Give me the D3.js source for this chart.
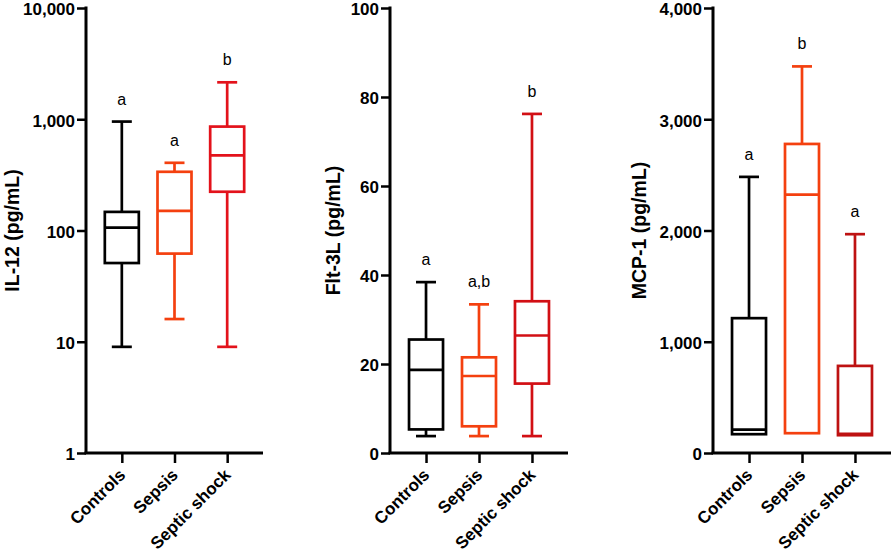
<!DOCTYPE html>
<html><head><meta charset="utf-8">
<script src="https://cdn.jsdelivr.net/npm/d3@7"></script>
<style>body{margin:0;background:#fff}svg{display:block}text{font-family:"Liberation Sans",Arial,sans-serif}</style>
</head><body>
<svg id="c" width="894" height="554"></svg>
<script>
const categories = ["Controls","Sepsis","Septic shock"];

const il12Min    = [9, 16, 9];
const il12Q1     = [51, 62, 223];
const il12Median = [106, 150, 474];
const il12Q3     = [147, 337, 859];
const il12Max    = [953, 406, 2148];
const il12Letters = ["a","a","b"];
const il12Ticks  = [1, 10, 100, 1000, 10000];

const fltMin    = [3.8, 3.8, 3.8];
const fltQ1     = [5.3, 6.0, 15.6];
const fltMedian = [18.7, 17.3, 26.4];
const fltQ3     = [25.5, 21.5, 34.1];
const fltMax    = [38.4, 33.4, 76.2];
const fltLetters = ["a","a,b","b"];
const fltTicks  = [0, 20, 40, 60, 80, 100];

const mcpMin    = [169, 178, 160];
const mcpQ1     = [169, 178, 160];
const mcpMedian = [210, 2323, 172];
const mcpQ3     = [1212, 2778, 783];
const mcpMax    = [2482, 3475, 1967];
const mcpLetters = ["a","b","a"];
const mcpTicks  = [0, 1000, 2000, 3000, 4000];

const panels = [
  {title:"IL-12 (pg/mL)", log:true, domain:[1,10000], ticks:il12Ticks, min:il12Min, q1:il12Q1, med:il12Median, q3:il12Q3, max:il12Max, letters:il12Letters,
   x0:86, x1:263, titleX:12, colors:["#000000","#F4400F","#E3121B"]},
  {title:"Flt-3L (pg/mL)", log:false, domain:[0,100], ticks:fltTicks, min:fltMin, q1:fltQ1, med:fltMedian, q3:fltQ3, max:fltMax, letters:fltLetters,
   x0:390, x1:568, titleX:333, colors:["#000000","#F4400F","#D20F14"]},
  {title:"MCP-1 (pg/mL)", log:false, domain:[0,4000], ticks:mcpTicks, min:mcpMin, q1:mcpQ1, med:mcpMedian, q3:mcpQ3, max:mcpMax, letters:mcpLetters,
   x0:713, x1:891, titleX:639, colors:["#000000","#F4400F","#BE1212"]}
];

const svg = d3.select("#c");
const yTop = 8, yBot = 453;
const boxW = 34, capW = 20;

panels.forEach(p => {
  const y = (p.log ? d3.scaleLog() : d3.scaleLinear()).domain(p.domain).range([yBot, yTop]);
  const x = d3.scalePoint().domain(categories).range([p.x0, p.x1]).padding(0.68);
  const g = svg.append("g");

  // y axis
  const ya = g.append("g").attr("transform",`translate(${p.x0},0)`)
    .call(d3.axisLeft(y).tickValues(p.ticks).tickFormat(d3.format(",")).tickSize(9).tickPadding(2));
  ya.select(".domain").attr("stroke","#000").attr("stroke-width",3).attr("d",`M0,${yTop-1.5}V${yBot}`);
  ya.selectAll(".tick line").attr("stroke","#000").attr("stroke-width",2.5);
  ya.selectAll(".tick text").attr("font-size",17).attr("font-weight","bold").attr("fill","#000").attr("dy","0.4em");

  // x axis
  const xa = g.append("g").attr("transform",`translate(0,${yBot})`)
    .call(d3.axisBottom(x).tickSize(10).tickFormat(""));
  xa.select(".domain").attr("stroke","#000").attr("stroke-width",3).attr("d",`M${p.x0-1.5},0H${p.x1}`);
  xa.selectAll(".tick line").attr("stroke","#000").attr("stroke-width",2.5);
  xa.selectAll(".tick").append("text")
    .attr("transform","translate(4,23) rotate(-45)")
    .attr("text-anchor","end").attr("font-size",17).attr("font-weight","bold").attr("fill","#000")
    .text(d=>d);

  // title
  g.append("text").attr("transform",`translate(${p.titleX},${(yTop+yBot)/2}) rotate(-90)`)
    .attr("text-anchor","middle").attr("dy","0.35em")
    .attr("font-size",19.5).attr("font-weight","bold").attr("fill","#000").text(p.title);

  // boxes
  categories.forEach((c,i) => {
    const cx = x(c), col = p.colors[i];
    const b = g.append("g").attr("stroke",col).attr("stroke-width",2.7).attr("fill","none");
    b.append("line").attr("x1",cx).attr("x2",cx).attr("y1",y(p.max[i])).attr("y2",y(p.q3[i]));
    b.append("line").attr("x1",cx).attr("x2",cx).attr("y1",y(p.q1[i])).attr("y2",y(p.min[i]));
    b.append("line").attr("x1",cx-capW/2).attr("x2",cx+capW/2).attr("y1",y(p.max[i])).attr("y2",y(p.max[i]));
    if (p.min[i] < p.q1[i])
      b.append("line").attr("x1",cx-capW/2).attr("x2",cx+capW/2).attr("y1",y(p.min[i])).attr("y2",y(p.min[i]));
    b.append("rect").attr("x",cx-boxW/2).attr("width",boxW)
      .attr("y",y(p.q3[i])).attr("height",y(p.q1[i])-y(p.q3[i])).attr("fill","#fff");
    b.append("line").attr("x1",cx-boxW/2).attr("x2",cx+boxW/2).attr("y1",y(p.med[i])).attr("y2",y(p.med[i]));
    g.append("text").attr("x",cx).attr("y",y(p.max[i])-17).attr("text-anchor","middle")
      .attr("font-size",16).attr("fill","#000").text(p.letters[i]);
  });
});
</script>
</body></html>
